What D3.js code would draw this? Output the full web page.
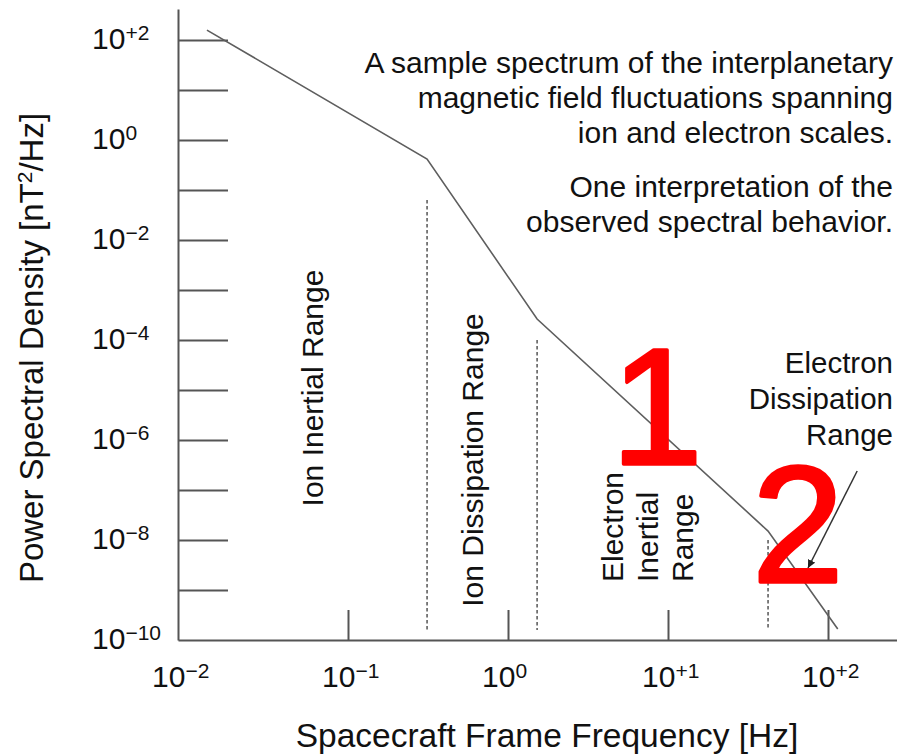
<!DOCTYPE html>
<html>
<head>
<meta charset="utf-8">
<script src="https://cdn.jsdelivr.net/npm/d3@7"></script>
<style>
  html, body { margin: 0; padding: 0; background: #fff; }
  svg { display: block; }
  text { font-family: "Liberation Sans", Arial, Helvetica, sans-serif; fill: #111; }
</style>
</head>
<body>
<svg id="chart" width="897" height="755"></svg>
<script>
// Broken power-law spectrum: corner frequencies [Hz] and power spectral density [nT^2/Hz]
const spectrumFreq = [0.0148, 0.312, 1.52, 42.2, 115];
const spectrumPsd  = [158, 0.417, 2.63e-4, 1.51e-8, 1.66e-10];

// Boundaries between ranges (dashed markers) and the level where each marker starts
const breakFreq = [0.312, 1.52, 42.2];
const breakTop  = [0.063, 1e-4, 1e-8];

// Axis ticks and labels (decade exponents)
const yTickExp  = [2, 1, 0, -1, -2, -3, -4, -5, -6, -7, -8, -9];
const yLabelExp = [2, 0, -2, -4, -6, -8, -10];
const xTickExp  = [-1, 0, 1, 2];
const xLabelExp = [-2, -1, 0, 1, 2];

// Arrow pointing at the electron dissipation range: [freq, psd] start and end
const arrowFrom = [152, 2.4e-7];
const arrowTo   = [75, 2.75e-9];

const svg = d3.select("#chart");
const axisColor = "#555";

// Log scales (x is piecewise: the first decade is drawn slightly wider)
const x = d3.scaleLog()
  .domain([0.01, 0.1, 100, Math.pow(10, 2.43)])
  .range([178, 348, 828, 897]);
const y = d3.scaleLog()
  .domain([1e-10, Math.pow(10, 2.62)])
  .range([640, 9]);

function supLabel(e) {
  if (e > 0) return "+" + e;
  if (e < 0) return "\u2212" + Math.abs(e);
  return "0";
}

// Y axis with long inward ticks
const yAxis = svg.append("g")
  .attr("transform", "translate(178,0)")
  .call(d3.axisLeft(y)
    .tickValues(yTickExp.map(e => Math.pow(10, e)))
    .tickSizeInner(-50).tickSizeOuter(0).tickFormat(""));
yAxis.select(".domain").attr("stroke", axisColor).attr("stroke-width", 2);
yAxis.selectAll(".tick line").attr("stroke", axisColor).attr("stroke-width", 2);

// X axis with short upward ticks
const xAxis = svg.append("g")
  .attr("transform", "translate(0,640)")
  .call(d3.axisBottom(x)
    .tickValues(xTickExp.map(e => Math.pow(10, e)))
    .tickSizeInner(-30).tickSizeOuter(0).tickFormat(""));
xAxis.select(".domain").attr("stroke", axisColor).attr("stroke-width", 2);
xAxis.selectAll(".tick line").attr("stroke", axisColor).attr("stroke-width", 2);

// Y tick labels: 10 with superscript exponent
yLabelExp.forEach(e => {
  const t = svg.append("text")
    .attr("x", 92)
    .attr("y", y(Math.pow(10, e)) + 9)
    .attr("font-size", 30);
  t.append("tspan").text("10");
  t.append("tspan").attr("font-size", 21).attr("dy", -9).text(supLabel(e));
});

// X tick labels
xLabelExp.forEach(e => {
  const t = svg.append("text")
    .attr("x", x(Math.pow(10, e)) - 26)
    .attr("y", 687)
    .attr("font-size", 30);
  t.append("tspan").text("10");
  t.append("tspan").attr("font-size", 21).attr("dy", -9).text(supLabel(e));
});

// Axis titles
const yTitle = svg.append("text")
  .attr("transform", "translate(43,348) rotate(-90)")
  .attr("text-anchor", "middle")
  .attr("font-size", 33);
yTitle.append("tspan").text("Power Spectral Density [nT");
yTitle.append("tspan").attr("font-size", 21).attr("dy", -11).text("2");
yTitle.append("tspan").attr("dy", 11).text("/Hz]");

svg.append("text")
  .attr("x", 547).attr("y", 747)
  .attr("text-anchor", "middle")
  .attr("font-size", 33.5)
  .text("Spacecraft Frame Frequency [Hz]");

// Dashed range boundaries
svg.append("g").selectAll("line")
  .data(breakFreq.map((f, i) => ({ f, top: breakTop[i] })))
  .join("line")
  .attr("x1", d => x(d.f)).attr("x2", d => x(d.f))
  .attr("y1", d => y(d.top)).attr("y2", y(1e-10) - 10)
  .attr("stroke", axisColor)
  .attr("stroke-width", 1.5)
  .attr("stroke-dasharray", "3.5,2.5");

// Spectrum
const pts = spectrumFreq.map((f, i) => [f, spectrumPsd[i]]);
svg.append("path")
  .datum(pts)
  .attr("fill", "none")
  .attr("stroke", "#5e5e5e")
  .attr("stroke-width", 1.6)
  .attr("d", d3.line().x(d => x(d[0])).y(d => y(d[1])));

// Range labels (rotated)
function rotLabel(px, py, lines, anchor, step) {
  lines.forEach((s, i) => {
    svg.append("text")
      .attr("transform", `translate(${px + i * step},${py}) rotate(-90)`)
      .attr("text-anchor", anchor)
      .attr("font-size", 30)
      .text(s);
  });
}
rotLabel(323, 388, ["Ion Inertial Range"], "middle", 0);
rotLabel(483, 460, ["Ion Dissipation Range"], "middle", 0);
rotLabel(623, 582, ["Electron", "Inertial", "Range"], "start", 35);

// Descriptive notes at top right
const notes = [
  ["A sample spectrum of the interplanetary", 73],
  ["magnetic field fluctuations spanning", 108],
  ["ion and electron scales.", 143],
  ["One interpretation of the", 197],
  ["observed spectral behavior.", 232]
];
notes.forEach(([s, by]) => {
  svg.append("text")
    .attr("x", 893).attr("y", by)
    .attr("text-anchor", "end")
    .attr("font-size", 30)
    .text(s);
});

// Electron dissipation range label with arrow
[["Electron", 373], ["Dissipation", 409], ["Range", 445]].forEach(([s, by]) => {
  svg.append("text")
    .attr("x", 893).attr("y", by)
    .attr("text-anchor", "end")
    .attr("font-size", 29.5)
    .text(s);
});

svg.append("defs").append("marker")
  .attr("id", "arrowhead")
  .attr("viewBox", "0 0 10 10")
  .attr("refX", 10).attr("refY", 5)
  .attr("markerWidth", 8).attr("markerHeight", 8)
  .attr("markerUnits", "userSpaceOnUse")
  .attr("orient", "auto")
  .append("path")
  .attr("d", "M0,0 L10,5 L0,10 Z")
  .attr("fill", "#222");
svg.append("line")
  .attr("x1", x(arrowFrom[0])).attr("y1", y(arrowFrom[1]))
  .attr("x2", x(arrowTo[0])).attr("y2", y(arrowTo[1]))
  .attr("stroke", "#333")
  .attr("stroke-width", 1.5)
  .attr("marker-end", "url(#arrowhead)");

// Large red range numbers
[["1", 657, 464], ["2", 798, 582]].forEach(([s, px, by]) => {
  svg.append("text")
    .attr("x", px).attr("y", by)
    .attr("text-anchor", "middle")
    .attr("font-family", "Lato, 'Open Sans', sans-serif")
    .attr("font-size", 165)
    .style("fill", "#ff0000")
    .style("stroke", "#ff0000")
    .style("stroke-width", 3.5)
    .style("stroke-linejoin", "round")
    .text(s);
});
</script>
</body>
</html>
